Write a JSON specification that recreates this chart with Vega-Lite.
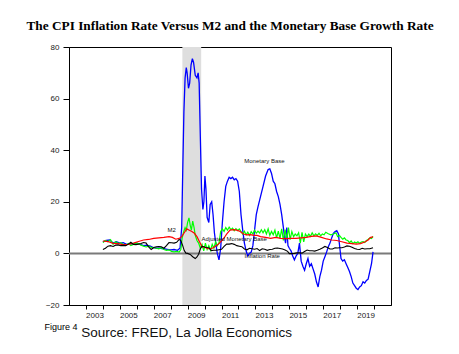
{
  "$schema": "https://vega.github.io/schema/vega-lite/v6.json",
  "width": 322,
  "height": 258,
  "autosize": "none",
  "padding": {"left": 69, "top": 47, "right": 68, "bottom": 49},
  "background": "white",
  "title": {"text": "The CPI Inflation Rate Versus M2 and the Monetary Base Growth Rate", "font": "Liberation Serif", "fontSize": 13.3, "fontWeight": "bold", "color": "#000000", "anchor": "middle", "offset": 11},
  "config": {"view": {"stroke": "#000000", "strokeWidth": 1}, "axis": {"grid": false, "domainColor": "#000000", "tickColor": "#000000", "labelFont": "Liberation Sans", "labelFontSize": 8, "labelColor": "#222222", "title": null}},
  "datasets": {
    "MB": [
      {"t":2004.0,"v":4.5},{"t":2004.2,"v":5},{"t":2004.4,"v":5.2},{"t":2004.6,"v":4},{"t":2004.8,"v":4.5},{"t":2005.0,"v":4},{"t":2005.2,"v":4.2},{"t":2005.4,"v":3.5},{"t":2005.6,"v":3.8},{"t":2005.8,"v":3.5},{"t":2006.0,"v":4},{"t":2006.2,"v":3.5},{"t":2006.4,"v":3},{"t":2006.6,"v":3.2},{"t":2006.8,"v":2.8},{"t":2007.0,"v":2.2},{"t":2007.2,"v":2},{"t":2007.4,"v":2},{"t":2007.6,"v":1.8},{"t":2007.8,"v":1.6},{"t":2008.0,"v":1.4},{"t":2008.2,"v":1.5},{"t":2008.4,"v":1.2},{"t":2008.55,"v":2},{"t":2008.65,"v":10},{"t":2008.72,"v":35},{"t":2008.78,"v":55},{"t":2008.85,"v":68},{"t":2008.92,"v":72},{"t":2008.97,"v":70},{"t":2009.05,"v":64},{"t":2009.12,"v":66},{"t":2009.2,"v":73},{"t":2009.28,"v":75.5},{"t":2009.35,"v":74},{"t":2009.45,"v":69},{"t":2009.55,"v":68},{"t":2009.62,"v":70},{"t":2009.68,"v":66},{"t":2009.75,"v":45},{"t":2009.82,"v":25},{"t":2009.9,"v":17},{"t":2009.96,"v":20},{"t":2010.02,"v":30},{"t":2010.08,"v":25},{"t":2010.15,"v":14},{"t":2010.25,"v":12},{"t":2010.33,"v":19},{"t":2010.42,"v":20},{"t":2010.5,"v":15},{"t":2010.58,"v":8},{"t":2010.66,"v":4},{"t":2010.75,"v":0},{"t":2010.85,"v":-2.5},{"t":2010.95,"v":2},{"t":2011.05,"v":12},{"t":2011.15,"v":20},{"t":2011.25,"v":26},{"t":2011.35,"v":28},{"t":2011.45,"v":29.5},{"t":2011.55,"v":29},{"t":2011.65,"v":29.5},{"t":2011.75,"v":28.5},{"t":2011.85,"v":29},{"t":2011.95,"v":28},{"t":2012.05,"v":24},{"t":2012.15,"v":15},{"t":2012.25,"v":9},{"t":2012.35,"v":4},{"t":2012.45,"v":1},{"t":2012.55,"v":-1},{"t":2012.65,"v":0},{"t":2012.75,"v":0.5},{"t":2012.85,"v":3},{"t":2012.95,"v":9},{"t":2013.05,"v":15},{"t":2013.15,"v":18},{"t":2013.3,"v":22},{"t":2013.45,"v":26},{"t":2013.6,"v":30},{"t":2013.75,"v":32.5},{"t":2013.85,"v":32.8},{"t":2013.95,"v":31},{"t":2014.05,"v":28},{"t":2014.15,"v":27},{"t":2014.25,"v":24},{"t":2014.35,"v":22},{"t":2014.45,"v":19},{"t":2014.55,"v":15},{"t":2014.65,"v":10},{"t":2014.72,"v":6},{"t":2014.78,"v":4},{"t":2014.85,"v":10},{"t":2014.92,"v":3},{"t":2015.0,"v":2},{"t":2015.1,"v":1},{"t":2015.2,"v":-1},{"t":2015.3,"v":-2.5},{"t":2015.4,"v":-1},{"t":2015.5,"v":0},{"t":2015.6,"v":4},{"t":2015.7,"v":-3},{"t":2015.8,"v":-5},{"t":2015.9,"v":-6.5},{"t":2016.0,"v":-4},{"t":2016.1,"v":-2},{"t":2016.2,"v":-5},{"t":2016.3,"v":-4},{"t":2016.4,"v":-6},{"t":2016.5,"v":-8},{"t":2016.6,"v":-11},{"t":2016.7,"v":-13},{"t":2016.8,"v":-9},{"t":2016.9,"v":-6.5},{"t":2017.0,"v":-3},{"t":2017.1,"v":-1.3},{"t":2017.2,"v":0.5},{"t":2017.3,"v":2.6},{"t":2017.4,"v":4},{"t":2017.5,"v":6},{"t":2017.6,"v":7.8},{"t":2017.7,"v":8.5},{"t":2017.8,"v":8.8},{"t":2017.9,"v":7.5},{"t":2017.95,"v":4},{"t":2018.05,"v":-2},{"t":2018.15,"v":-3},{"t":2018.25,"v":-2.5},{"t":2018.35,"v":-4},{"t":2018.45,"v":-5.5},{"t":2018.55,"v":-7},{"t":2018.65,"v":-9},{"t":2018.75,"v":-11.5},{"t":2018.85,"v":-12.5},{"t":2018.95,"v":-13.5},{"t":2019.05,"v":-14},{"t":2019.15,"v":-13},{"t":2019.25,"v":-12.5},{"t":2019.35,"v":-11},{"t":2019.45,"v":-11.5},{"t":2019.55,"v":-10.5},{"t":2019.65,"v":-10},{"t":2019.75,"v":-7},{"t":2019.85,"v":-4},{"t":2019.94,"v":0.6}
    ],
    "AMB": [
      {"t":2004.0,"v":4.2},{"t":2004.15,"v":5},{"t":2004.3,"v":4.5},{"t":2004.45,"v":5.3},{"t":2004.6,"v":3.5},{"t":2004.75,"v":4.5},{"t":2004.9,"v":3.8},{"t":2005.05,"v":4.2},{"t":2005.2,"v":3.5},{"t":2005.35,"v":3.2},{"t":2005.5,"v":3.8},{"t":2005.65,"v":3},{"t":2005.8,"v":3.5},{"t":2005.95,"v":4},{"t":2006.1,"v":3.8},{"t":2006.25,"v":3.2},{"t":2006.4,"v":2.8},{"t":2006.55,"v":2.5},{"t":2006.7,"v":2.8},{"t":2006.85,"v":2.3},{"t":2007.0,"v":2.2},{"t":2007.15,"v":2},{"t":2007.3,"v":1.8},{"t":2007.45,"v":2.2},{"t":2007.6,"v":1.5},{"t":2007.75,"v":1.2},{"t":2007.9,"v":1.4},{"t":2008.05,"v":0.8},{"t":2008.2,"v":0.6},{"t":2008.35,"v":0.8},{"t":2008.5,"v":0.5},{"t":2008.6,"v":1.5},{"t":2008.68,"v":6},{"t":2008.75,"v":8},{"t":2008.85,"v":10},{"t":2008.92,"v":9},{"t":2009.0,"v":12},{"t":2009.08,"v":13.8},{"t":2009.15,"v":11},{"t":2009.22,"v":9},{"t":2009.3,"v":12.5},{"t":2009.38,"v":10},{"t":2009.45,"v":7},{"t":2009.55,"v":5},{"t":2009.65,"v":4},{"t":2009.75,"v":2},{"t":2009.85,"v":3.5},{"t":2009.95,"v":1},{"t":2010.05,"v":4},{"t":2010.15,"v":1.5},{"t":2010.25,"v":3},{"t":2010.35,"v":1.2},{"t":2010.45,"v":3.5},{"t":2010.55,"v":2},{"t":2010.65,"v":4.5},{"t":2010.75,"v":3},{"t":2010.85,"v":4},{"t":2010.95,"v":8.5},{"t":2011.05,"v":9.5},{"t":2011.15,"v":8.5},{"t":2011.25,"v":10},{"t":2011.35,"v":9},{"t":2011.45,"v":10.2},{"t":2011.55,"v":9.2},{"t":2011.65,"v":9.8},{"t":2011.75,"v":8.8},{"t":2011.85,"v":9.6},{"t":2011.95,"v":8.8},{"t":2012.05,"v":9.5},{"t":2012.15,"v":8.5},{"t":2012.25,"v":7.5},{"t":2012.35,"v":8.6},{"t":2012.45,"v":7.2},{"t":2012.55,"v":8.2},{"t":2012.65,"v":7},{"t":2012.75,"v":8.4},{"t":2012.85,"v":7.5},{"t":2012.95,"v":9},{"t":2013.05,"v":7.8},{"t":2013.15,"v":8.6},{"t":2013.25,"v":7.9},{"t":2013.35,"v":9.2},{"t":2013.45,"v":8},{"t":2013.55,"v":9.2},{"t":2013.65,"v":7.5},{"t":2013.75,"v":9.5},{"t":2013.85,"v":7},{"t":2013.95,"v":8.5},{"t":2014.05,"v":7.2},{"t":2014.15,"v":9},{"t":2014.25,"v":6},{"t":2014.35,"v":8.6},{"t":2014.45,"v":5.8},{"t":2014.55,"v":9.5},{"t":2014.65,"v":5},{"t":2014.75,"v":9.2},{"t":2014.85,"v":5.5},{"t":2014.95,"v":10},{"t":2015.05,"v":5.3},{"t":2015.15,"v":8.5},{"t":2015.25,"v":6.5},{"t":2015.35,"v":7.5},{"t":2015.45,"v":6.8},{"t":2015.55,"v":8},{"t":2015.65,"v":4},{"t":2015.75,"v":8.2},{"t":2015.85,"v":4.5},{"t":2015.95,"v":7.5},{"t":2016.05,"v":6.5},{"t":2016.15,"v":7.5},{"t":2016.25,"v":6.6},{"t":2016.35,"v":8},{"t":2016.45,"v":6.8},{"t":2016.55,"v":7.6},{"t":2016.65,"v":7},{"t":2016.75,"v":7.8},{"t":2016.85,"v":6.8},{"t":2016.95,"v":7.5},{"t":2017.05,"v":7.2},{"t":2017.15,"v":8.2},{"t":2017.3,"v":7.6},{"t":2017.45,"v":7.2},{"t":2017.6,"v":7.5},{"t":2017.75,"v":8},{"t":2017.85,"v":6.5},{"t":2017.95,"v":7},{"t":2018.05,"v":6.2},{"t":2018.15,"v":5.5},{"t":2018.25,"v":6},{"t":2018.35,"v":5.2},{"t":2018.45,"v":5},{"t":2018.55,"v":4.2},{"t":2018.65,"v":4.8},{"t":2018.75,"v":3.8},{"t":2018.85,"v":4.4},{"t":2018.95,"v":4},{"t":2019.05,"v":4.5},{"t":2019.15,"v":3.9},{"t":2019.25,"v":4.4},{"t":2019.35,"v":4.6},{"t":2019.45,"v":4.2},{"t":2019.55,"v":5},{"t":2019.65,"v":5.4},{"t":2019.75,"v":6},{"t":2019.85,"v":5.8},{"t":2019.94,"v":6.6}
    ],
    "M2": [
      {"t":2004.0,"v":4.8},{"t":2004.3,"v":4.6},{"t":2004.6,"v":3.9},{"t":2004.9,"v":3.8},{"t":2005.2,"v":3.3},{"t":2005.5,"v":3.5},{"t":2005.8,"v":4},{"t":2006.1,"v":4.6},{"t":2006.4,"v":5.2},{"t":2006.7,"v":5.4},{"t":2007.0,"v":5.8},{"t":2007.3,"v":6},{"t":2007.6,"v":6.2},{"t":2007.9,"v":6.5},{"t":2008.1,"v":6.2},{"t":2008.3,"v":5.5},{"t":2008.5,"v":5.8},{"t":2008.65,"v":6.5},{"t":2008.8,"v":8},{"t":2008.95,"v":9.5},{"t":2009.1,"v":9},{"t":2009.25,"v":8.5},{"t":2009.4,"v":7.8},{"t":2009.55,"v":6.5},{"t":2009.7,"v":4.5},{"t":2009.85,"v":2.6},{"t":2010.0,"v":2.4},{"t":2010.2,"v":1.8},{"t":2010.4,"v":1.8},{"t":2010.6,"v":2.6},{"t":2010.8,"v":3.5},{"t":2010.95,"v":4.5},{"t":2011.1,"v":5.5},{"t":2011.3,"v":7.5},{"t":2011.5,"v":9},{"t":2011.7,"v":9.2},{"t":2011.9,"v":9},{"t":2012.1,"v":8.5},{"t":2012.3,"v":7.5},{"t":2012.5,"v":7.2},{"t":2012.7,"v":7.3},{"t":2012.9,"v":7},{"t":2013.1,"v":7},{"t":2013.3,"v":6.5},{"t":2013.6,"v":6.2},{"t":2013.9,"v":5.8},{"t":2014.2,"v":6.2},{"t":2014.5,"v":5.8},{"t":2014.8,"v":5.7},{"t":2015.1,"v":5.8},{"t":2015.4,"v":5.8},{"t":2015.7,"v":6},{"t":2016.0,"v":6.2},{"t":2016.3,"v":6.6},{"t":2016.6,"v":6.8},{"t":2016.9,"v":6.2},{"t":2017.2,"v":5.6},{"t":2017.5,"v":5.2},{"t":2017.8,"v":5},{"t":2018.1,"v":4.5},{"t":2018.4,"v":4},{"t":2018.7,"v":3.8},{"t":2018.95,"v":3.6},{"t":2019.2,"v":3.8},{"t":2019.45,"v":4.4},{"t":2019.65,"v":5.2},{"t":2019.8,"v":6.2},{"t":2019.94,"v":6.4}
    ],
    "CPI": [
      {"t":2004.0,"v":1.5},{"t":2004.15,"v":2},{"t":2004.3,"v":2.8},{"t":2004.45,"v":3},{"t":2004.6,"v":2.7},{"t":2004.75,"v":3.2},{"t":2004.9,"v":3.3},{"t":2005.05,"v":3},{"t":2005.2,"v":3.1},{"t":2005.35,"v":3},{"t":2005.5,"v":3.6},{"t":2005.65,"v":4.3},{"t":2005.8,"v":3.5},{"t":2005.95,"v":3.4},{"t":2006.1,"v":3.6},{"t":2006.25,"v":3.8},{"t":2006.4,"v":4.2},{"t":2006.55,"v":4},{"t":2006.7,"v":2.5},{"t":2006.85,"v":1.5},{"t":2007.0,"v":2.3},{"t":2007.15,"v":2.6},{"t":2007.3,"v":2.7},{"t":2007.45,"v":2.6},{"t":2007.6,"v":2},{"t":2007.75,"v":3},{"t":2007.9,"v":4.2},{"t":2008.05,"v":4.1},{"t":2008.2,"v":4},{"t":2008.35,"v":4.3},{"t":2008.5,"v":5.4},{"t":2008.6,"v":5},{"t":2008.7,"v":3.2},{"t":2008.8,"v":1.1},{"t":2008.9,"v":0.1},{"t":2009.0,"v":0},{"t":2009.15,"v":-0.4},{"t":2009.3,"v":-1.3},{"t":2009.45,"v":-2},{"t":2009.55,"v":-1.4},{"t":2009.65,"v":-0.3},{"t":2009.75,"v":1.8},{"t":2009.85,"v":2.7},{"t":2009.95,"v":2.6},{"t":2010.1,"v":2.3},{"t":2010.25,"v":2.2},{"t":2010.4,"v":1.1},{"t":2010.55,"v":1.2},{"t":2010.7,"v":1.2},{"t":2010.85,"v":1.4},{"t":2011.0,"v":1.6},{"t":2011.15,"v":2.7},{"t":2011.3,"v":3.6},{"t":2011.45,"v":3.6},{"t":2011.6,"v":3.8},{"t":2011.75,"v":3.5},{"t":2011.9,"v":3},{"t":2012.05,"v":2.8},{"t":2012.2,"v":2.6},{"t":2012.35,"v":1.7},{"t":2012.5,"v":1.4},{"t":2012.65,"v":2},{"t":2012.8,"v":1.8},{"t":2012.95,"v":1.6},{"t":2013.1,"v":1.9},{"t":2013.25,"v":1.1},{"t":2013.4,"v":1.8},{"t":2013.55,"v":1.6},{"t":2013.7,"v":1.2},{"t":2013.85,"v":1.5},{"t":2014.0,"v":1.6},{"t":2014.15,"v":2},{"t":2014.3,"v":2.1},{"t":2014.45,"v":1.9},{"t":2014.6,"v":1.7},{"t":2014.75,"v":1.3},{"t":2014.9,"v":0.8},{"t":2015.0,"v":-0.1},{"t":2015.15,"v":-0.1},{"t":2015.3,"v":0},{"t":2015.45,"v":0.2},{"t":2015.6,"v":0.2},{"t":2015.75,"v":0.1},{"t":2015.9,"v":0.7},{"t":2016.05,"v":1.3},{"t":2016.2,"v":1},{"t":2016.35,"v":1},{"t":2016.5,"v":0.9},{"t":2016.65,"v":1.2},{"t":2016.8,"v":1.6},{"t":2016.95,"v":2.1},{"t":2017.1,"v":2.7},{"t":2017.25,"v":2.3},{"t":2017.4,"v":1.7},{"t":2017.55,"v":1.7},{"t":2017.7,"v":2.2},{"t":2017.85,"v":2.1},{"t":2017.95,"v":2.2},{"t":2018.1,"v":2.2},{"t":2018.25,"v":2.5},{"t":2018.4,"v":2.9},{"t":2018.55,"v":2.8},{"t":2018.7,"v":2.4},{"t":2018.85,"v":1.9},{"t":2019.0,"v":1.6},{"t":2019.15,"v":1.5},{"t":2019.3,"v":2},{"t":2019.45,"v":1.7},{"t":2019.6,"v":1.8},{"t":2019.75,"v":1.8},{"t":2019.94,"v":2.2}
    ],
    "labels": [
      {"t":2013.53,"v":35.8,"txt":"Monetary Base"},
      {"t":2008.06,"v":9.2,"txt":"M2"},
      {"t":2011.75,"v":5.6,"txt":"Adjusted Monetary Base"},
      {"t":2013.4,"v":-1.1,"txt":"Inflation Rate"}
    ]
  },
  "encoding": {
    "x": {"field": "t", "type": "quantitative", "scale": {"domain": [2002, 2021], "nice": false, "zero": false},
      "axis": {"values": [2003,2004,2005,2006,2007,2008,2009,2010,2011,2012,2013,2014,2015,2016,2017,2018,2019,2020], "labelExpr": "datum.value % 2 == 1 && datum.value < 2020 ? format(datum.value, 'd') : ''", "labelOffset": 8.5, "labelFlush": false, "labelOverlap": false, "tickSize": 4, "labelPadding": 2}},
    "y": {"field": "v", "type": "quantitative", "scale": {"domain": [-20, 80], "nice": false, "zero": false},
      "axis": {"values": [-20, 0, 20, 40, 60, 80], "tickSize": 6, "labelPadding": 4}}
  },
  "layer": [
    {"data": {"values": [{"a": 2008.69, "b": 2009.8}]}, "mark": {"type": "rect", "color": "#dedede"}, "encoding": {"x": {"field": "a", "type": "quantitative"}, "x2": {"field": "b"}, "y": null}},
    {"data": {"values": [{"z": 0}]}, "mark": {"type": "rule", "color": "#7a7a7a", "strokeWidth": 2}, "encoding": {"y": {"field": "z", "type": "quantitative"}, "x": null}},
    {"data": {"name": "MB"}, "mark": {"type": "line", "color": "#0000ff", "strokeWidth": 1.3}},
    {"data": {"name": "AMB"}, "mark": {"type": "line", "color": "#00ff00", "strokeWidth": 1.2}},
    {"data": {"name": "M2"}, "mark": {"type": "line", "color": "#ff0000", "strokeWidth": 1.2}},
    {"data": {"name": "CPI"}, "mark": {"type": "line", "color": "#000000", "strokeWidth": 1.1}},
    {"data": {"name": "labels"}, "mark": {"type": "text", "font": "Liberation Sans", "fontSize": 6, "color": "#111111"}, "encoding": {"text": {"field": "txt"}}},
    {"data": {"values": [{"t": 2000.55, "v": -28.6, "txt": "Figure 4"}]}, "mark": {"type": "text", "font": "Liberation Sans", "fontSize": 9, "align": "left", "color": "#000000"}, "encoding": {"text": {"field": "txt"}}},
    {"data": {"values": [{"t": 2008.94, "v": -30.8, "txt": "Source: FRED, La Jolla Economics"}]}, "mark": {"type": "text", "font": "Liberation Sans", "fontSize": 13.5, "color": "#111111"}, "encoding": {"text": {"field": "txt"}}}
  ]
}
